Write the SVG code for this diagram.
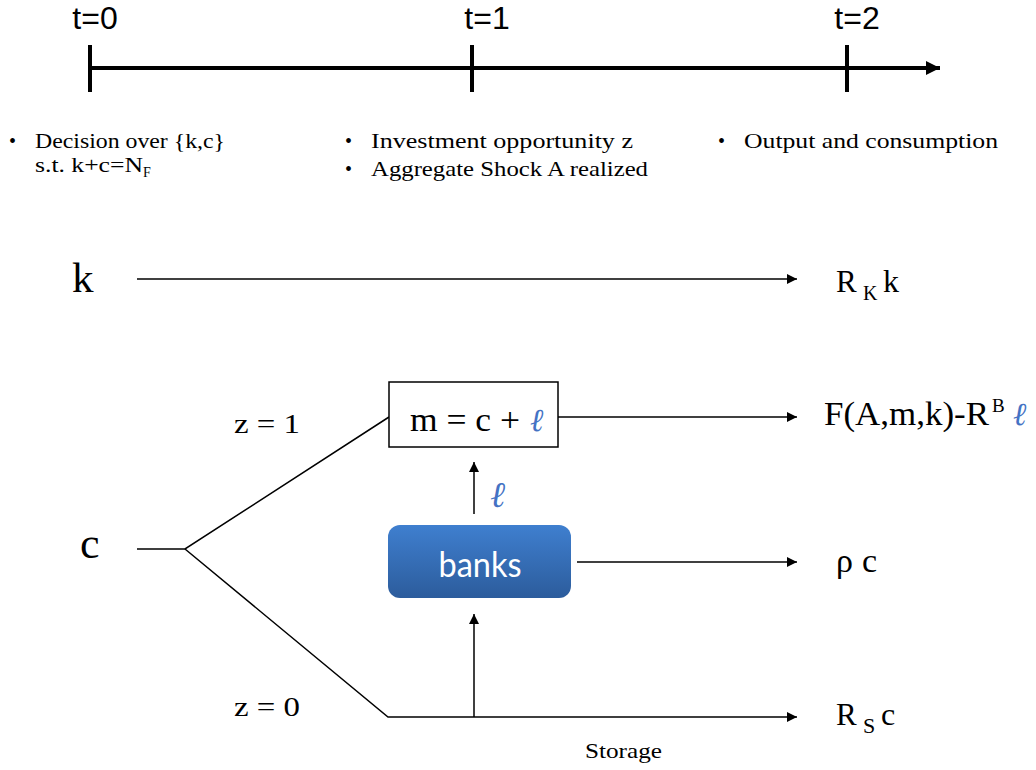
<svg xmlns="http://www.w3.org/2000/svg" width="1036" height="770" viewBox="0 0 1036 770">
<defs>
<style>
.ser{font-family:"Liberation Serif","DejaVu Serif",serif;fill:#000}
.san{font-family:"Liberation Sans",Arial,sans-serif;fill:#000}
.blue{fill:#4472c4;font-style:italic}
.ln{stroke:#000;stroke-width:1.5;fill:none}
.tl{stroke:#000;stroke-width:4;fill:none}
</style>
<marker id="ah" viewBox="0 0 10 10" refX="10" refY="5" markerWidth="10" markerHeight="10" markerUnits="userSpaceOnUse" orient="auto">
<path d="M0,0 L10,5 L0,10 z" fill="#000"/>
</marker>
<marker id="ahb" viewBox="0 0 10 10" refX="10" refY="5" markerWidth="14" markerHeight="14" markerUnits="userSpaceOnUse" orient="auto">
<path d="M0,0 L10,5 L0,10 z" fill="#000"/>
</marker>
<linearGradient id="bg" x1="0" y1="0" x2="0" y2="1">
<stop offset="0" stop-color="#3f7fcf"/>
<stop offset="1" stop-color="#2c5c9c"/>
</linearGradient>
</defs>
<rect width="1036" height="770" fill="#fff"/>

<g id="timeline">
<line class="tl" x1="90" y1="68" x2="940" y2="68" marker-end="url(#ahb)"/>
<line class="tl" x1="90" y1="45" x2="90" y2="92"/>
<line class="tl" x1="472" y1="45" x2="472" y2="92"/>
<line class="tl" x1="847" y1="45" x2="847" y2="92"/>
<text class="san" x="95" y="29" font-size="32" text-anchor="middle">t=0</text>
<text class="san" x="487" y="29" font-size="32" text-anchor="middle">t=1</text>
<text class="san" x="857" y="29" font-size="32" text-anchor="middle">t=2</text>
</g>

<g id="notes" font-size="21">
<text class="ser" x="9" y="148" font-size="20">•</text>
<text class="ser" x="35" y="148" textLength="190" lengthAdjust="spacingAndGlyphs">Decision over {k,c}</text>
<text class="ser" x="35" y="172" textLength="108" lengthAdjust="spacingAndGlyphs">s.t. k+c=N</text>
<text class="ser" x="143" y="177" font-size="14">F</text>
<text class="ser" x="345" y="148" font-size="20">•</text>
<text class="ser" x="371" y="148" textLength="262" lengthAdjust="spacingAndGlyphs">Investment opportunity z</text>
<text class="ser" x="345" y="176" font-size="20">•</text>
<text class="ser" x="371" y="176" textLength="277" lengthAdjust="spacingAndGlyphs">Aggregate Shock A realized</text>
<text class="ser" x="718" y="148" font-size="20">•</text>
<text class="ser" x="744" y="148" textLength="254" lengthAdjust="spacingAndGlyphs">Output and consumption</text>
</g>

<g id="connectors">
<line class="ln" x1="137" y1="279" x2="797" y2="279" marker-end="url(#ah)"/>
<polyline class="ln" points="137,549 185,549 389,417"/>
<polyline class="ln" points="185,549 388,717 797,717" marker-end="url(#ah)"/>
<line class="ln" x1="558" y1="417" x2="797" y2="417" marker-end="url(#ah)"/>
<line class="ln" x1="474" y1="514" x2="474" y2="462" marker-end="url(#ah)"/>
<line class="ln" x1="577" y1="562" x2="797" y2="562" marker-end="url(#ah)"/>
<line class="ln" x1="474" y1="717" x2="474" y2="614" marker-end="url(#ah)"/>
</g>

<g id="node-k">
<text class="ser" x="72" y="292" font-size="43">k</text>
</g>
<g id="node-c">
<text class="ser" x="80" y="558" font-size="44">c</text>
</g>
<g id="node-rk">
<text class="ser" x="836" y="292" font-size="31">R</text>
<text class="ser" x="863" y="300" font-size="20">K</text>
<text class="ser" x="883" y="292" font-size="32">k</text>
</g>
<g id="node-m">
<rect x="389" y="382" width="169" height="65" fill="#fff" stroke="#000" stroke-width="1.5"/>
<text class="ser" x="410" y="431" font-size="34" textLength="110" lengthAdjust="spacingAndGlyphs">m = c +</text>
<text class="ser blue" x="530" y="431" font-size="32">ℓ</text>
</g>
<g id="node-f">
<text class="ser" x="824" y="425" font-size="34" textLength="165" lengthAdjust="spacingAndGlyphs">F(A,m,k)-R</text>
<text class="ser" x="992" y="412" font-size="19">B</text>
<text class="ser blue" x="1013" y="425" font-size="32">ℓ</text>
</g>
<g id="label-l">
<text class="ser blue" x="490" y="507" font-size="36">ℓ</text>
</g>
<g id="node-banks">
<rect x="388" y="525" width="183" height="73" rx="12" fill="url(#bg)"/>
<text x="480" y="577" font-size="34" text-anchor="middle" fill="#fff" font-family="Lato,'Open Sans',sans-serif" textLength="83" lengthAdjust="spacingAndGlyphs">banks</text>
</g>
<g id="node-rho">
<text class="ser" x="836" y="572" font-size="34">ρ</text>
<text class="ser" x="862" y="572" font-size="34">c</text>
</g>
<g id="node-rs">
<text class="ser" x="836" y="725" font-size="31">R</text>
<text class="ser" x="863" y="733" font-size="22">S</text>
<text class="ser" x="881" y="725" font-size="32">c</text>
</g>
<g id="labels">
<text class="ser" x="234" y="433" font-size="28" textLength="66" lengthAdjust="spacingAndGlyphs">z = 1</text>
<text class="ser" x="234" y="716" font-size="28" textLength="66" lengthAdjust="spacingAndGlyphs">z = 0</text>
<text class="ser" x="585" y="758" font-size="21" textLength="77" lengthAdjust="spacingAndGlyphs">Storage</text>
</g>
</svg>
